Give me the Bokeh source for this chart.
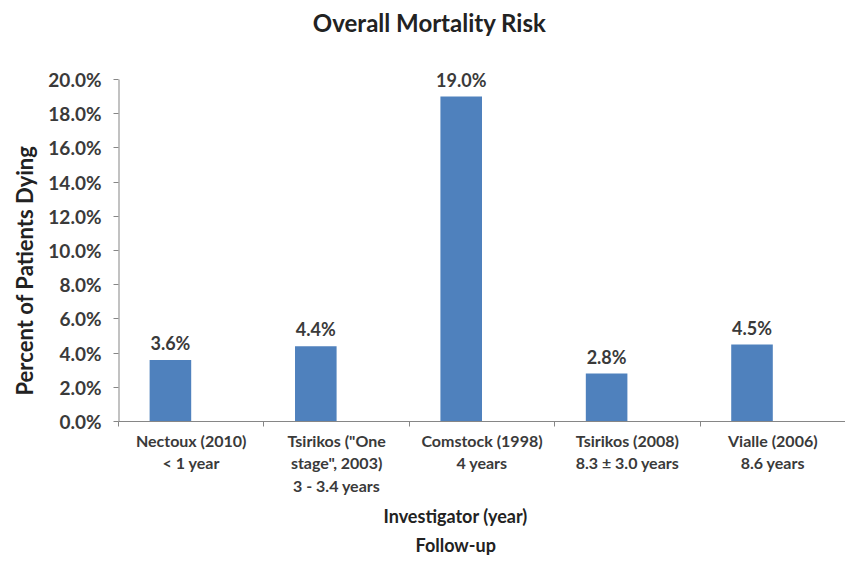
from bokeh.plotting import figure
from bokeh.models import (ColumnDataSource, FixedTicker, NumeralTickFormatter,
                          Range1d, LabelSet, Label, Title)
from bokeh.core.properties import value
from bokeh.embed import file_html
from bokeh.resources import INLINE

categories = ['Nectoux (2010)\n< 1 year',
              'Tsirikos ("One\nstage", 2003)\n3 - 3.4 years',
              'Comstock (1998)\n4 years',
              'Tsirikos (2008)\n8.3 \u00b1 3.0 years',
              'Vialle (2006)\n8.6 years']
values = [0.036, 0.044, 0.190, 0.028, 0.045]
value_labels = ["3.6%", "4.4%", "19.0%", "2.8%", "4.5%"]
y_ticks = [0.0, 0.02, 0.04, 0.06, 0.08, 0.10, 0.12, 0.14, 0.16, 0.18, 0.20]
title_text = "Overall Mortality Risk"
x_title_1 = "Investigator (year)"
x_title_2 = "Follow-up"
y_title = "Percent of Patients Dying"

FONT = "Lato"
TXT = "#3a3a3a"

n = len(categories)
centers = [i + 0.5 for i in range(n)]
bar_x = [c - 0.143 for c in centers]
y_top = y_ticks[-1]
y_end = 0.2462

src = ColumnDataSource(dict(x=bar_x, top=values, lab=value_labels))

p = figure(width=845, height=555, output_backend="svg", toolbar_location=None,
           x_range=Range1d(0, n), y_range=Range1d(0, y_end),
           min_border_left=0, min_border_right=0, min_border_top=0,
           min_border_bottom=0)

p.vbar(x="x", top="top", width=0.286, bottom=0, source=src,
       fill_color="#4F81BD", line_color=None)

# y axis line only up to the top tick
p.segment(x0=[0], y0=[0], x1=[0], y1=[y_top], line_color="#868686",
          line_width=2)

p.add_layout(LabelSet(x="x", y="top", text="lab", source=src, y_offset=6,
                      text_align="center", text_baseline="bottom",
                      text_font=value(FONT), text_font_size="18px",
                      text_font_style="bold", text_color=TXT))

p.add_layout(Label(x=2.14, y=0.2336, text=title_text, text_align="center",
                   text_baseline="middle", text_font=FONT,
                   text_font_size="24px", text_font_style="bold",
                   text_color="#222222"))

p.add_layout(Title(text=x_title_1, align="left", offset=265, standoff=9,
                   text_font=FONT, text_font_size="18px",
                   text_font_style="bold", text_color="#222222"), "below")
p.add_layout(Title(text=x_title_2, align="left", offset=297, standoff=0,
                   text_font=FONT, text_font_size="18px",
                   text_font_style="bold", text_color="#222222"), "below")
p.add_layout(Title(text=y_title, align="left", offset=26, standoff=16,
                   text_font=FONT, text_font_size="22px",
                   text_font_style="bold", text_color="#222222"), "left")

p.xgrid.visible = False
p.ygrid.visible = False
p.outline_line_color = None

xa = p.xaxis[0]
xa.ticker = FixedTicker(ticks=centers, minor_ticks=list(range(n + 1)))
xa.major_label_overrides = {c: categories[i] for i, c in enumerate(centers)}
xa.major_tick_in = 0
xa.major_tick_out = 0
xa.minor_tick_in = 0
xa.minor_tick_out = 5
xa.minor_tick_line_color = "#868686"
xa.axis_line_color = "#868686"
xa.major_label_text_font = FONT
xa.major_label_text_font_size = "16px"
xa.major_label_text_font_style = "bold"
xa.major_label_text_color = TXT
xa.major_label_standoff = 4

ya = p.yaxis[0]
ya.ticker = FixedTicker(ticks=y_ticks)
ya.formatter = NumeralTickFormatter(format="0.0%")
ya.major_tick_in = 0
ya.major_tick_out = 5
ya.minor_tick_in = 0
ya.minor_tick_out = 0
ya.major_tick_line_color = "#868686"
ya.axis_line_color = None
ya.major_label_text_font = FONT
ya.major_label_text_font_size = "19px"
ya.major_label_text_font_style = "bold"
ya.major_label_text_color = TXT
ya.major_label_standoff = 12

open("out.html", "w").write(file_html(p, INLINE))
